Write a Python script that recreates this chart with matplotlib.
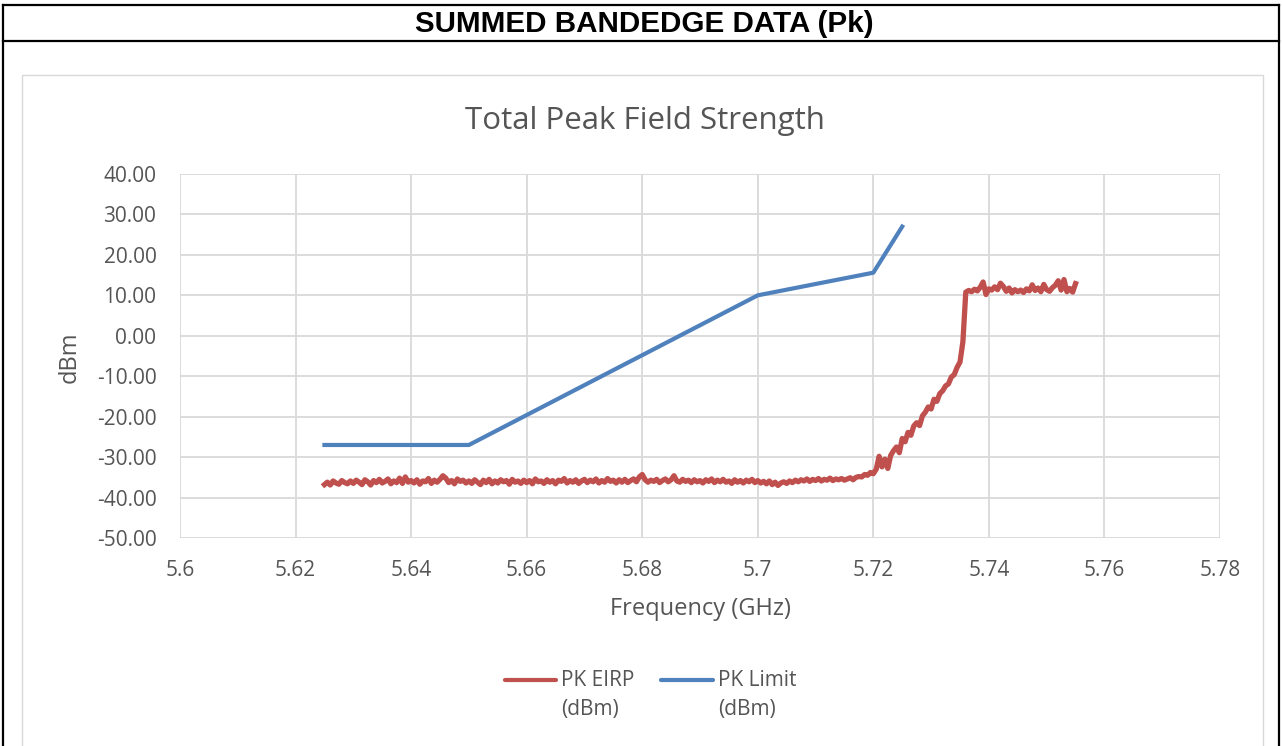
import numpy as np
import matplotlib
matplotlib.use("Agg")
import matplotlib.pyplot as plt
from matplotlib.lines import Line2D
from matplotlib.patches import Rectangle
from matplotlib.ticker import FormatStrFormatter

# sweep of the analyser: 5.625 .. 5.755 GHz, one reading every 0.5 MHz
freq_start = 5.625
freq_step = 0.0005

pk_eirp = [
    # 5.625 - 5.7175 GHz, noise floor
    -36.8, -36.2, -36.9, -35.9, -36.4, -36.7, -35.8, -36.3, -36.6, -35.9,
    -36.5, -35.7, -36.2, -36.8, -35.6, -36.1, -36.9, -35.8, -36.3, -35.5,
    -36.4, -36.0, -35.4, -36.6, -35.9, -36.3, -35.2, -36.5, -34.9, -36.2,
    -35.8, -36.4, -35.6, -36.7, -35.9, -36.1, -35.3, -36.5, -35.7, -36.2,
    -35.5, -34.6, -35.2, -36.3, -35.8, -36.6, -35.4, -36.0, -35.7, -36.4,
    -35.9, -36.5, -35.6, -36.2, -36.8, -35.7, -36.3, -35.5, -36.6, -35.9,
    -36.4, -35.6, -36.1, -35.8, -36.7, -35.5, -36.2, -35.9, -36.5, -35.7,
    -36.3, -35.8, -36.6, -35.4, -36.1, -35.9, -36.5, -35.6, -36.2, -35.8,
    -36.6, -35.7, -36.0, -35.3, -36.4, -35.8, -36.2, -35.6, -36.5, -35.9,
    -35.5, -36.3, -35.7, -36.1, -35.4, -36.4, -35.8, -36.2, -35.3, -36.0,
    -35.7, -36.4, -35.6, -36.2, -35.5, -36.3, -35.8, -35.4, -36.1, -34.9,
    -34.3, -35.6, -36.2, -35.7, -36.0, -35.5, -36.3, -35.8, -35.4, -36.1,
    -35.6, -34.6, -35.9, -36.2, -35.5, -36.0, -35.7, -36.3, -35.6, -36.1,
    -35.8, -36.4, -35.6, -36.0, -35.4, -36.3, -35.7, -36.1, -35.5, -36.2,
    -35.9, -36.5, -35.6, -36.2, -35.8, -36.4, -35.7, -36.1, -35.5, -36.3,
    -35.8, -36.4, -36.0, -36.6, -35.9, -36.8, -36.2, -37.0, -36.4, -36.1,
    -36.5, -35.9, -36.3, -35.7, -36.1, -35.6, -35.9, -35.4, -36.0, -35.5,
    -35.8, -35.3, -35.9, -35.5, -35.7, -35.2, -35.8, -35.4, -35.6, -35.3,
    -35.7, -35.4, -35.1, -35.6, -35.0, -34.8,
    # 5.718 - 5.7355 GHz, band edge skirt
    -34.9, -34.3, -34.5, -33.8, -34.1, -33.0, -29.8, -32.4, -30.5, -32.8,
    -29.6, -28.4, -27.5, -28.9, -25.4, -26.2, -23.9, -24.6, -22.3, -21.5,
    -22.2, -19.8, -18.9, -17.6, -18.1, -15.7, -16.2, -14.3, -13.6, -12.4,
    -11.9, -10.2, -9.6, -7.8, -6.5, -1.5,
    # 5.736 - 5.755 GHz, in band
    10.8, 11.2, 10.9, 11.5, 11.1, 12.0, 13.3, 10.2, 11.6, 11.3,
    12.1, 11.4, 13.0, 12.2, 11.0, 11.8, 10.6, 11.4, 10.9, 11.3,
    10.7, 11.6, 11.1, 12.6, 11.2, 11.8, 10.9, 12.7, 11.4, 11.0,
    11.9, 12.5, 13.6, 11.3, 13.9, 10.9, 11.7, 10.8, 12.9,
]

limit_freq = [5.625, 5.65, 5.70, 5.72, 5.725]
pk_limit = [-27.0, -27.0, 10.0, 15.6, 27.0]

x_ticks = [5.6, 5.62, 5.64, 5.66, 5.68, 5.7, 5.72, 5.74, 5.76, 5.78]
y_ticks = [-50, -40, -30, -20, -10, 0, 10, 20, 30, 40]

W, H = 1282, 746
RED = "#C0504D"
BLUE = "#4F81BD"
GRID = "#D9D9D9"
TXT = "#555555"
FONT = ["Open Sans", "DejaVu Sans"]


def fx(px):
    return px / W


def fy(py):
    return 1 - py / H


freqs = freq_start + freq_step * np.arange(len(pk_eirp))

fig = plt.figure(figsize=(W / 100, H / 100), dpi=100)
fig.patch.set_facecolor("white")

# report table frame
for x0, y0, x1, y1 in [(3, 5, 1279, 5), (3, 41, 1279, 41), (3, 5, 3, 746), (1279, 5, 1279, 746)]:
    fig.add_artist(Line2D([fx(x0), fx(x1)], [fy(y0), fy(y1)], color="black", lw=1.6,
                          transform=fig.transFigure))
fig.text(fx(644), fy(24), "SUMMED BANDEDGE DATA (Pk)", ha="center", va="center",
         fontsize=21.3, fontweight="bold", family=["Liberation Sans", "DejaVu Sans"], color="black")

# chart area border
fig.add_artist(Rectangle((fx(22), fy(760)), fx(1263) - fx(22), fy(75) - fy(760),
                         transform=fig.transFigure, fill=False, edgecolor=GRID, lw=1.0))

fig.text(fx(645), fy(121), "Total Peak Field Strength", ha="center", va="center",
         fontsize=22.5, color=TXT, family=FONT)

ax = fig.add_axes([fx(180), fy(538), fx(1220) - fx(180), fy(174) - fy(538)])
ax.plot(freqs, pk_eirp, color=RED, lw=3.8, solid_joinstyle="round", zorder=3)
ax.plot(limit_freq, pk_limit, color=BLUE, lw=3, solid_joinstyle="round", zorder=3)

ax.set_xlim(5.6, 5.78)
ax.set_ylim(-50, 40)
ax.set_xticks(x_ticks)
ax.set_xticklabels(["%g" % t for t in x_ticks])
ax.set_yticks(y_ticks)
ax.yaxis.set_major_formatter(FormatStrFormatter("%.2f"))
ax.grid(True, color=GRID, lw=1.3)
ax.set_axisbelow(True)
for s in ax.spines.values():
    s.set_visible(False)
ax.tick_params(length=0, labelsize=15, labelcolor=TXT)
ax.tick_params(axis="y", pad=17)
ax.tick_params(axis="x", pad=16)
for lab in ax.get_xticklabels() + ax.get_yticklabels():
    lab.set_family(FONT)

fig.text(fx(700), fy(609), "Frequency (GHz)", ha="center", va="center",
         fontsize=17, color=TXT, family=FONT)
fig.text(fx(70), fy(357), "dBm", ha="center", va="center", rotation=90,
         fontsize=17, color=TXT, family=FONT)

# legend
for x0, x1, col, label in [(505, 556, RED, "PK EIRP"), (661, 713, BLUE, "PK Limit")]:
    fig.add_artist(Line2D([fx(x0), fx(x1)], [fy(680), fy(680)], color=col, lw=3,
                          solid_capstyle="round", transform=fig.transFigure))
    fig.text(fx(x1 + 5), fy(680), label, ha="left", va="center", fontsize=15,
             color=TXT, family=FONT)
    fig.text(fx(x1 + 5), fy(710), "(dBm)", ha="left", va="center", fontsize=15,
             color=TXT, family=FONT)

fig.savefig("out.png", dpi=100)
